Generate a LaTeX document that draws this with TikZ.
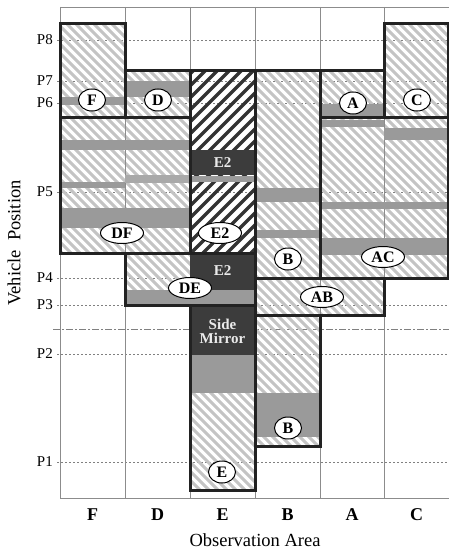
\documentclass[tikz,border=0pt]{standalone}
\usepackage{fontspec}
\setmainfont{Liberation Serif}
\usetikzlibrary{shapes.geometric}

\definecolor{hatchgray}{HTML}{C4C4C4}
\definecolor{densegray}{HTML}{333333}
\definecolor{bandgray}{HTML}{9A9A9A}
\definecolor{blockgray}{HTML}{3C3C3C}
\definecolor{gridgray}{HTML}{8C8C8C}
\definecolor{edgeblack}{HTML}{222222}

\tikzset{
  lightstroke/.style={draw=hatchgray, line width=3.1pt},
  densestroke/.style={draw=densegray, line width=3.3pt},
  band/.style={fill=bandgray},
  darkblock/.style={fill=blockgray},
  outline/.style={draw=edgeblack, line width=3pt},
  gridline/.style={draw=gridgray, line width=0.7pt},
  levelline/.style={draw=gray, line width=0.7pt, dash pattern=on 2pt off 2pt},
  mirrorline/.style={draw=gray, line width=0.8pt, dash pattern=on 7pt off 2pt on 2pt off 2pt},
  tagone/.style={ellipse, draw=black, line width=1pt, fill=white, inner sep=0.5pt,
    minimum width=27pt, minimum height=22pt, font=\fontsize{16}{16}\selectfont\bfseries},
  tagtwo/.style={tagone, minimum width=43pt, minimum height=21pt},
  blocktext/.style={text=white!92!black, font=\fontsize{15}{16}\selectfont\bfseries, align=center},
  levellabel/.style={anchor=east, font=\fontsize{15}{15}\selectfont, inner sep=0pt},
  arealabel/.style={font=\fontsize{18}{18}\selectfont\bfseries, inner sep=0pt},
  axistitle/.style={font=\fontsize{18.5}{18.5}\selectfont, inner sep=0pt}
}

% light "\\\" hatching inside a rectangle given by two corners
\newcommand\lighthatch[2]{%
  \begin{scope}
    \clip #1 rectangle #2;
    \foreach \k in {-560,-551,...,460} {\draw[lightstroke] (\k,0) -- ++(560,560);}
  \end{scope}}
% dense "///" hatching inside a rectangle given by two corners
\newcommand\densehatch[2]{%
  \begin{scope}
    \clip #1 rectangle #2;
    \foreach \k in {-120,-108,...,840} {\draw[densestroke] (\k,0) -- ++(-560,560);}
  \end{scope}}

\begin{document}
\begin{tikzpicture}[x=1pt, y=-1pt]
  % page area
  \fill[white] (0,0) rectangle (449,551);
  \useasboundingbox (0,0) rectangle (449,551);

  % vehicle position levels
  \foreach \yy/\nm in {40/P8, 81/P7, 103/P6, 192/P5, 278/P4, 305/P3, 354/P2, 462/P1} {
    \draw[levelline] (57,\yy) -- (449,\yy);
  }
  % side-mirror reference line
  \coordinate (mirrorL) at (53,329);
  \coordinate (mirrorR) at (449,329);
  \draw[mirrorline] (mirrorL) -- (mirrorR);

  % light hatched regions
  \lighthatch{(60,24)}{(125,117)}    % F
  \lighthatch{(125,70)}{(190,117)}   % D
  \lighthatch{(60,117)}{(190,253)}   % DF
  \lighthatch{(125,253)}{(190,305)}  % DE
  \lighthatch{(190,393)}{(255,490)}  % E
  \lighthatch{(255,70)}{(320,278)}   % B upper
  \lighthatch{(255,278)}{(384,315)}  % AB
  \lighthatch{(255,315)}{(320,446)}  % B lower
  \lighthatch{(320,70)}{(384,117)}   % A
  \lighthatch{(384,24)}{(449,117)}   % C
  \lighthatch{(320,117)}{(449,278)}  % AC
  % dense hatched region
  \densehatch{(190,70)}{(255,253)}   % E2

  % column separators and frame
  \foreach \xx in {125,190,255,320,384} {
    \draw[gridline] (\xx,7) -- (\xx,498);
  }
  \draw[gridline] (60,7) -- (449,7);
  \draw[gridline] (60,7) -- (60,498) -- (449,498);

  % gray bands
  \fill[band] (60,97) rectangle (125,105);
  \fill[band] (125,81) rectangle (190,97);
  \fill[band] (60,140) rectangle (190,150);
  \fill[band] (60,182) rectangle (125,188);
  \fill[bandgray!85!white] (125,175) rectangle (190,183);
  \fill[band] (60,208) rectangle (190,228);
  \fill[band] (190,176) rectangle (255,182);
  \fill[band] (125,290) rectangle (255,305);
  \fill[band] (190,355) rectangle (255,393);
  \fill[band] (255,188) rectangle (320,202);
  \fill[band] (255,230) rectangle (320,238);
  \fill[band] (255,393) rectangle (320,437);
  \fill[band] (320,104) rectangle (384,117);
  \fill[band] (320,120) rectangle (384,127);
  \fill[band] (384,128) rectangle (449,140);
  \fill[band] (320,202) rectangle (449,209);
  \fill[band] (320,238) rectangle (449,255);

  % dark blocks
  \fill[darkblock] (190,150) rectangle (255,175);
  \fill[darkblock] (190,253) rectangle (255,290);
  \fill[darkblock] (190,305) rectangle (255,355);
  \node[blocktext] (e2top) at (222.5,163) {E2};
  \node[blocktext] (e2low) at (222.5,271) {E2};
  \node[blocktext] (mirror) at (222.5,331) {Side\\[-2pt]Mirror};

  % region outlines
  \draw[outline] (60,24) rectangle (125,117);
  \draw[outline] (125,70) rectangle (190,117);
  \draw[outline] (60,117) rectangle (190,253);
  \draw[outline] (190,70) rectangle (255,253);
  \draw[outline] (125,253) rectangle (255,305);
  \draw[outline] (190,305) rectangle (255,490);
  \draw[outline] (255,70) rectangle (320,278);
  \draw[outline] (255,278) rectangle (384,315);
  \draw[outline] (255,315) rectangle (320,446);
  \draw[outline] (320,70) rectangle (384,117);
  \draw[outline] (384,24) rectangle (448,117);
  \draw[outline] (320,117) rectangle (448,278);

  % region tags
  \node[tagone] (tagF)   at (92,100)  {F};
  \node[tagone] (tagD)   at (158,100) {D};
  \node[tagtwo] (tagDF)  at (122,233) {DF};
  \node[tagtwo] (tagE2)  at (220,233) {E2};
  \node[tagtwo] (tagDE)  at (190,288) {DE};
  \node[tagone] (tagE)   at (222,472) {E};
  \node[tagone] (tagB)   at (288,259) {B};
  \node[tagtwo] (tagAB)  at (322,297) {AB};
  \node[tagone] (tagBl)  at (288,428) {B};
  \node[tagone] (tagA)   at (353,103) {A};
  \node[tagone] (tagC)   at (417,100) {C};
  \node[tagtwo] (tagAC)  at (383,257) {AC};

  % level labels
  \foreach \yy/\nm in {40/P8, 81/P7, 103/P6, 192/P5, 278/P4, 305/P3, 354/P2, 462/P1} {
    \node[levellabel] (lab\nm) at (53,\yy) {\nm};
  }

  % observation areas
  \foreach \xx/\nm in {92.5/F, 157.5/D, 222.5/E, 287.5/B, 352/A, 416.5/C} {
    \node[arealabel] (area\nm) at (\xx,515) {\nm};
  }
  \node[axistitle] (xtitle) at (255,540) {Observation Area};
  \node[axistitle, rotate=90] (ytitle) at (14,243) {Vehicle\ \ Position};
\end{tikzpicture}
\end{document}
